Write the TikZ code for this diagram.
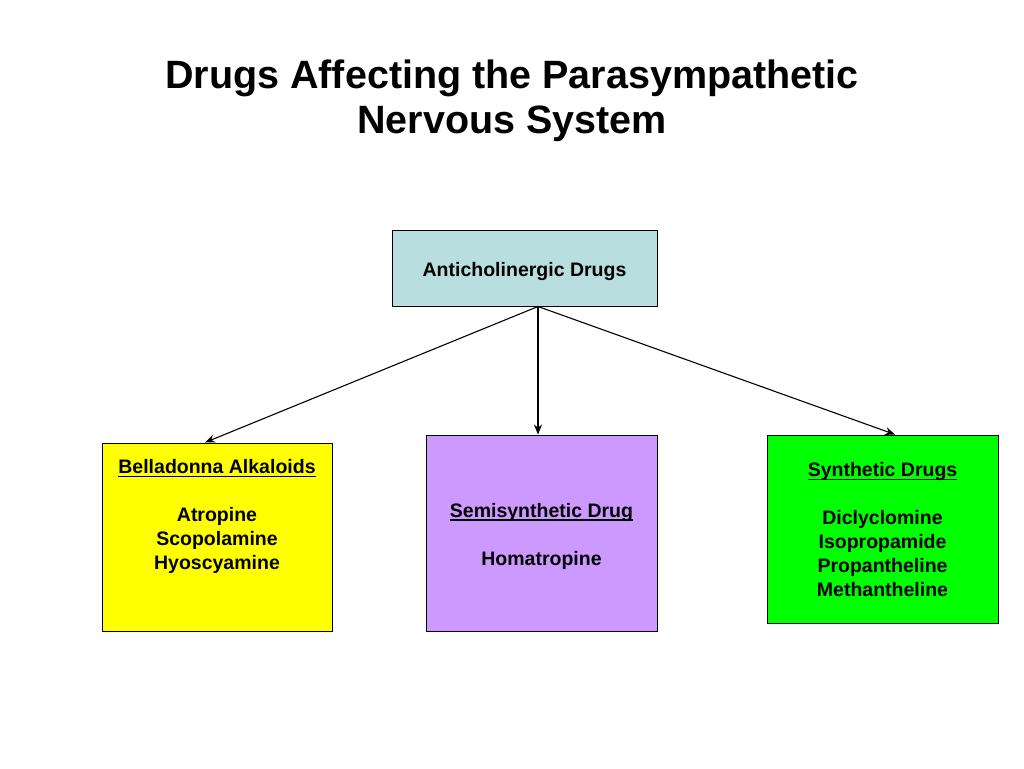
\documentclass[tikz,border=0pt]{standalone}
\usepackage{fontspec}
\setmainfont{Liberation Sans}
\usetikzlibrary{arrows.meta,calc}
\definecolor{topc}{HTML}{B8DEE0}
\definecolor{yel}{HTML}{FFFF00}
\definecolor{pur}{HTML}{CC99FF}
\definecolor{grn}{HTML}{00FF00}
\newcommand\myul[1]{\setbox0\hbox{#1}\rlap{\rule[-3.5pt]{\wd0}{1.6pt}}\box0}
\tikzset{
  box/.style={draw=black, line width=1pt, inner sep=0pt},
  txt/.style={align=center, font=\fontsize{19.5}{24}\selectfont\bfseries, inner sep=0pt},
  conn/.style={-{Stealth[length=10pt,width=8pt]}, line width=1.1pt},
}
\begin{document}
\begin{tikzpicture}[x=1pt,y=-1pt]
\useasboundingbox[fill=white] (0,0) rectangle (1024,768);
\node[align=center, font=\fontsize{39.5}{45}\selectfont\bfseries, anchor=center] (title) at (512,101) {Drugs Affecting the Parasympathetic\\Nervous System};
\node[box, fill=topc, minimum width=265pt, minimum height=76pt] (top) at (524.5,268) {};
\node[box, fill=yel, minimum width=230pt, minimum height=188pt] (bel) at (217,537) {};
\node[box, fill=pur, minimum width=231pt, minimum height=196pt] (semi) at (541.5,533) {};
\node[box, fill=grn, minimum width=231pt, minimum height=188pt] (syn) at (882.5,529) {};
\node[txt] (toptxt) at ([yshift=-3pt]top.center) {Anticholinergic Drugs};
\node[txt, anchor=north] (beltxt) at ([yshift=-17pt]bel.north) {\myul{Belladonna Alkaloids}\\[24pt]Atropine\\Scopolamine\\Hyoscyamine};
\node[txt] (semitxt) at ([yshift=-3pt]semi.center) {\myul{Semisynthetic Drug}\\[24pt]Homatropine};
\node[txt] (syntxt) at ([yshift=-1pt]syn.center) {\myul{Synthetic Drugs}\\[24pt]Diclyclomine\\Isopropamide\\Propantheline\\Methantheline};
\coordinate (src) at ([xshift=13.5pt]top.south);
\draw[conn] (src) -- ([xshift=-12pt]bel.north);
\draw[conn] (src) -- (src |- semi.north);
\draw[conn] (src) -- ([xshift=12.5pt]syn.north);
\end{tikzpicture}
\end{document}
